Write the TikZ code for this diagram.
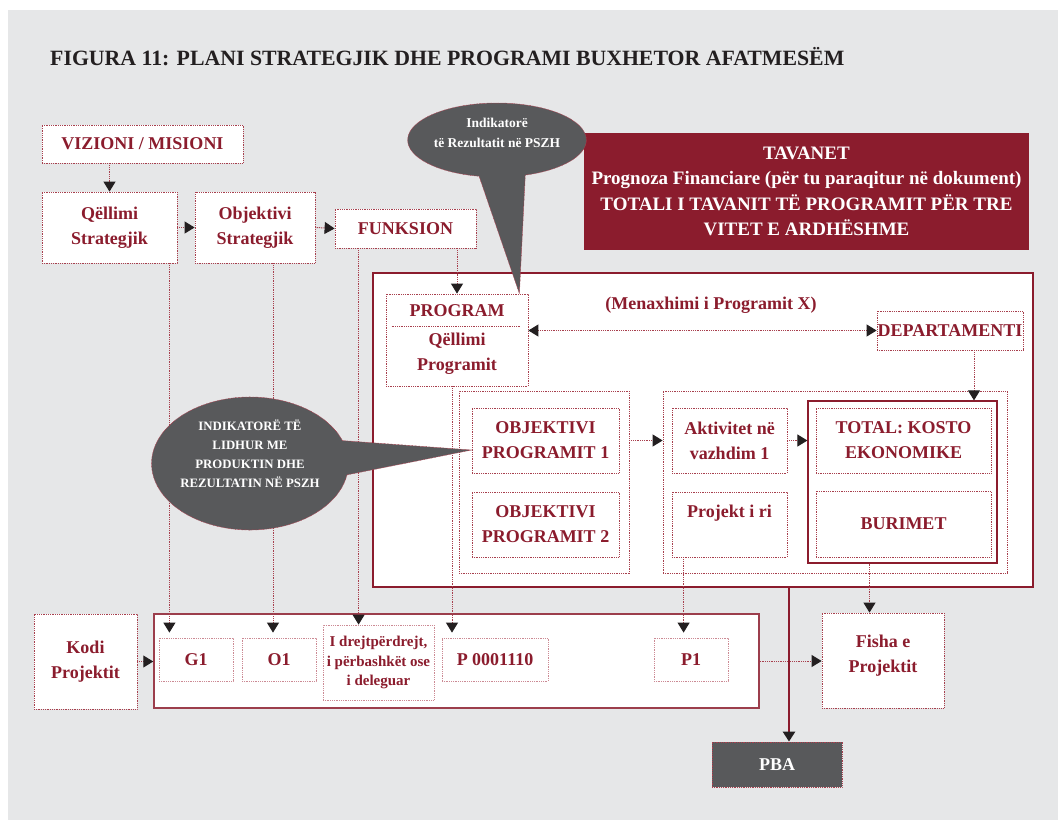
\documentclass[tikz,border=0pt]{standalone}
\usepackage{fontspec}
\setmainfont{Liberation Serif}
\usepackage{xcolor}
\usetikzlibrary{arrows.meta,shapes.callouts}

\definecolor{bggray}{HTML}{E6E7E8}
\definecolor{maroon}{HTML}{8B1C2D}
\definecolor{dotred}{HTML}{A8404E}
\definecolor{pinkdot}{HTML}{CC8A94}
\definecolor{bubblegray}{HTML}{58595B}
\definecolor{inkblack}{HTML}{231F20}

\tikzset{
  box/.style={draw=dotred, line width=0.8pt, dash pattern=on 0.9pt off 0.9pt, fill=white, text=maroon,
    align=center, inner sep=0pt, font=\bfseries\fontsize{18}{25}\selectfont},
  codebox/.style={box, draw=pinkdot},
  frame/.style={draw=maroon, line width=2pt, fill=white, inner sep=0pt},
  dotframe/.style={draw=dotred, line width=0.8pt, dash pattern=on 0.9pt off 0.9pt, inner sep=0pt},
  tip/.style={-{Triangle[length=10pt,width=12pt,color=inkblack]}},
  flow/.style={draw=dotred, line width=1pt, dash pattern=on 1pt off 0.8pt, tip},
  bubble/.style={ellipse callout, fill=bubblegray, draw=dotred, line width=0.5pt, dash pattern=on 0.8pt off 0.6pt,
    text=white, align=center, inner sep=0pt, callout pointer arc=30},
}

\begin{document}
\begin{tikzpicture}[x=1pt,y=-1pt]
            \useasboundingbox (0,0) rectangle (1058,820);
            \fill[bggray] (8,10) rectangle (1058,820);
            \node[anchor=west, text=inkblack, inner sep=0pt, font=\bfseries\fontsize{21.8}{25}\selectfont] (title) at (50,57)
              {FIGURA 11: PLANI STRATEGJIK DHE PROGRAMI BUXHETOR AFATMESËM};

            \node[box, minimum width=201pt, minimum height=38pt] (vision) at (142.5,144) {VIZIONI / MISIONI};
            \node[box, minimum width=135pt, minimum height=71pt] (goal) at (109.5,227.5) {Qëllimi\\Strategjik};
            \node[box, minimum width=120pt, minimum height=71pt] (objective) at (255,227.5) {Objektivi\\Strategjik};
            \node[box, minimum width=141pt, minimum height=39pt] (function) at (405.5,228.5) {FUNKSION};
            \node[fill=maroon, text=white, align=center, inner sep=0pt, minimum width=445pt, minimum height=117pt,
              font=\bfseries\fontsize{19}{25.5}\selectfont] (ceilings) at (806.5,191.5)
              {TAVANET\\Prognoza Financiare (për tu paraqitur në dokument)\\TOTALI I TAVANIT TË PROGRAMIT PËR TRE\\VITET E ARDHËSHME};

            \node[frame, minimum width=660pt, minimum height=314pt] (bigframe) at (703,430) {};
            \node[box, minimum width=142pt, minimum height=92pt] (program) at (457,340) {PROGRAM\\[4pt]Qëllimi\\Programit};
            \draw[dotred, line width=0.8pt, dash pattern=on 0.9pt off 0.9pt]
              ([xshift=6pt,yshift=14pt]program.west) -- ([xshift=-8pt,yshift=14pt]program.east);
            \node[text=maroon, inner sep=0pt, font=\bfseries\fontsize{18}{25}\selectfont] (mgmt) at (711,305) {(Menaxhimi i Programit X)};
            \node[box, minimum width=146pt, minimum height=39pt] (department) at (950,330.5) {DEPARTAMENTI};

            \node[dotframe, minimum width=170pt, minimum height=182pt] (objframe) at (544,482) {};
            \node[box, minimum width=147pt, minimum height=65pt] (obj1) at (545.5,440.5) {OBJEKTIVI\\PROGRAMIT 1};
            \node[box, minimum width=147pt, minimum height=65pt] (obj2) at (545.5,524.5) {OBJEKTIVI\\PROGRAMIT 2};
            \node[dotframe, minimum width=344pt, minimum height=182pt] (actframe) at (835,482) {};
            \node[box, minimum width=115pt, minimum height=65pt] (act1) at (729.5,440.5) {Aktivitet në\\vazhdim 1};
            \node[box, minimum width=115pt, minimum height=65pt] (newproj) at (729.5,524.5) {Projekt i ri\\[2pt]\phantom{x}};
            \node[draw=maroon, line width=1.2pt, inner sep=0pt, minimum width=189pt, minimum height=162pt] (costframe) at (902.5,482) {};
            \node[box, minimum width=175pt, minimum height=65pt] (cost) at (903.5,440.5) {TOTAL: KOSTO\\EKONOMIKE};
            \node[box, minimum width=175pt, minimum height=66pt] (sources) at (903.5,524) {BURIMET};

            \node[box, minimum width=103pt, minimum height=95pt] (projcode) at (85.5,661.5) {Kodi\\Projektit};
            \node[draw=maroon!85, line width=1.5pt, fill=white, inner sep=0pt, minimum width=605pt, minimum height=94pt] (coderow) at (456.5,661) {};
            \node[codebox, minimum width=74pt, minimum height=43pt] (g1) at (196,659.5) {G1};
            \node[codebox, minimum width=74pt, minimum height=43pt] (o1) at (279,659.5) {O1};
            \node[codebox, minimum width=111pt, minimum height=75pt, font=\bfseries\fontsize{15}{19.5}\selectfont] (direct) at (378.5,662.5)
              {I drejtpërdrejt,\\i përbashkët ose\\i deleguar};
            \node[codebox, minimum width=106pt, minimum height=43pt] (pcode) at (495,659.5) {P 0001110};
            \node[codebox, minimum width=74pt, minimum height=43pt] (p1) at (691,659.5) {P1};
            \node[box, minimum width=122pt, minimum height=95pt] (sheet) at (883,660.5) {Fisha e\\Projektit\\[-11pt]\phantom{x}};
            \node[box, fill=bubblegray, text=white, minimum width=130pt, minimum height=45pt] (pba) at (777,764.5) {PBA};

            \draw[flow] (goal.north |- vision.south) -- (goal.north);
            \draw[flow] (goal.east) -- (objective.west);
            \draw[flow] (objective.east) -- (function.west);
            \draw[flow] (program.north |- function.south) -- (program.north);
            \draw[flow, {Triangle[length=10pt,width=12pt,color=inkblack]}-{Triangle[length=10pt,width=12pt,color=inkblack]}]
              (program.east |- department.west) -- (department.west);
            \draw[flow] ([xshift=24pt]department.south) -- ([xshift=24pt]department.south |- costframe.north);
            \draw[flow] (objframe.east |- obj1.east) -- (actframe.west |- obj1.east);
            \draw[flow] (act1.east) -- (costframe.west |- act1.east);

            \draw[flow] ([xshift=-8pt]goal.south east) -- ([xshift=-8pt,yshift=5pt]goal.south east |- g1.north);
            \draw[flow] ([xshift=-6pt]o1.north |- objective.south) -- ([xshift=-6pt,yshift=5pt]o1.north);
            \draw[flow] ([xshift=24pt]function.south west) -- ([xshift=24pt]function.south west |- direct.north);
            \draw[flow] ([xshift=-5pt]program.south) -- ([xshift=-5pt,yshift=5pt]program.south |- pcode.north);
            \draw[flow] ([xshift=12pt]newproj.south west) -- ([xshift=12pt,yshift=5pt]newproj.south west |- p1.north);
            \draw[flow] ([xshift=-33pt]costframe.south) -- ([xshift=-33pt]costframe.south |- sheet.north);
            \draw[flow] (projcode.east) -- (coderow.west |- projcode.east);
            \draw[flow] (coderow.east) -- (sheet.west |- coderow.east);
            \draw[maroon, line width=2.5pt, tip] ([xshift=12pt]pba.north |- bigframe.south) -- ([xshift=12pt]pba.north);

            \node[bubble, minimum width=164pt, minimum height=74pt, font=\bfseries\fontsize{13.5}{20}\selectfont,
              callout absolute pointer={([xshift=-9pt]program.north east)}] (resultnote) at (497,140)
              {Indikatorë\\të Rezultatit në PSZH\\[-6pt]\phantom{x}};
            \node[bubble, minimum width=188pt, minimum height=133pt, font=\bfseries\fontsize{12.8}{19}\selectfont,
              callout absolute pointer={([yshift=-9.5pt]obj1.west)}] (outputnote) at (250,463.5)
              {INDIKATORË TË\\LIDHUR ME\\PRODUKTIN DHE\\REZULTATIN NË PSZH\\\phantom{x}};
        \end{tikzpicture}
\end{document}
